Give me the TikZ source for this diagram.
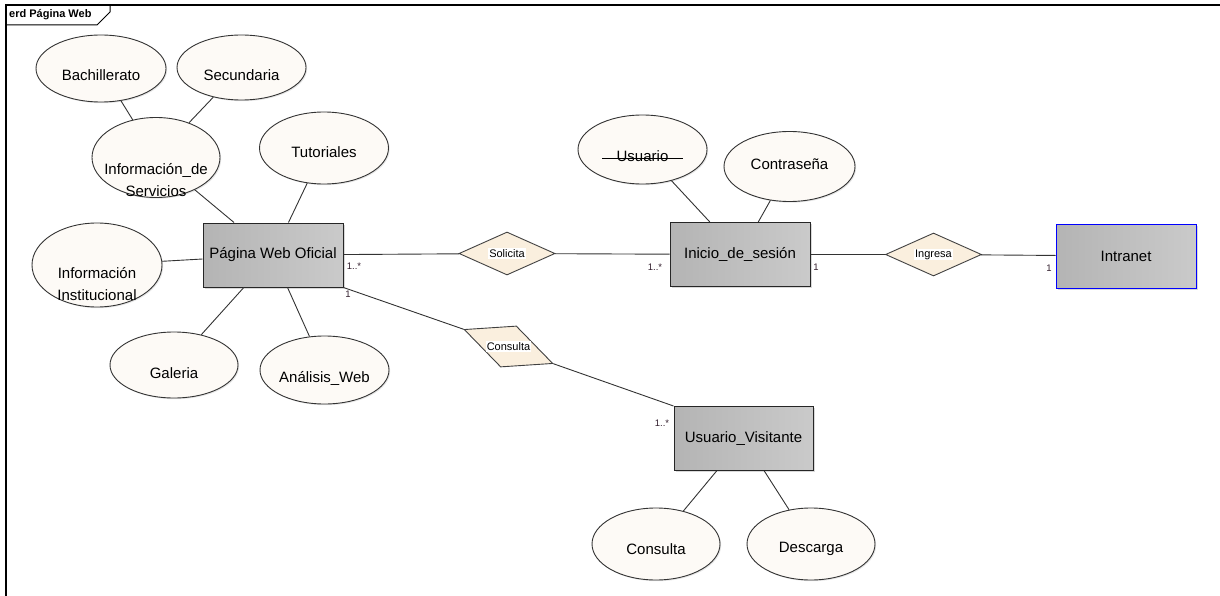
\documentclass[tikz,border=0pt]{standalone}
\usepackage{fontspec}
\setmainfont{Liberation Sans}
\usetikzlibrary{shapes.geometric}
\usetikzlibrary{shadows}

\definecolor{attrfill}{RGB}{253,250,246}
\definecolor{relfill}{RGB}{250,239,222}
\definecolor{entleft}{RGB}{180,180,180}
\definecolor{entright}{RGB}{202,202,202}
\definecolor{cardtext}{RGB}{50,30,45}

\begin{document}
\begin{tikzpicture}[x=1pt, y=-1pt]
                \tikzstyle{entity} = [rectangle, draw=black!85, line width=1pt, minimum width=140pt, minimum height=64pt, left color=entleft, right color=entright, font=\fontsize{15}{18}\selectfont, drop shadow={opacity=0.3, shadow xshift=1.5pt, shadow yshift=-1.5pt}]
                \tikzstyle{attr} = [ellipse, draw=black!80, line width=0.9pt, fill=attrfill, minimum width=129pt, minimum height=68pt, drop shadow={opacity=0.2, shadow xshift=1.2pt, shadow yshift=-1.2pt}]
                \tikzstyle{atxt} = [inner sep=0pt, yshift=-6.5pt, align=center, font=\fontsize{15}{22}\selectfont]
                \tikzstyle{relation} = [diamond, draw=black!75, line width=0.9pt, fill=relfill, aspect=2.2, minimum width=96pt, minimum height=43pt, inner sep=0pt]
                \tikzstyle{reltxt} = [fill=white, inner sep=1pt, font=\fontsize{11}{13}\selectfont]
                \tikzstyle{card} = [inner sep=0pt, text=cardtext, font=\fontsize{9.5}{10}\selectfont]
                \tikzstyle{link} = [line width=0.9pt, black!80]
                \useasboundingbox (0,0) rectangle (1220,596);
                \draw[line width=1.3pt] (6,596) -- (6,5) -- (1220,5);
                \draw[line width=1pt] (6,25) -- (97,25) -- (110,12) -- (110,5);
                \node[anchor=west, inner sep=0pt, font=\bfseries\fontsize{11}{13}\selectfont] (title) at (9,15) {erd Página Web};
                \node[entity] (pw) at (273,255) {Página Web Oficial};
                \node[entity] (ini) at (740,254.5) {Inicio\_de\_sesión};
                \node[entity, draw=blue, line width=0.8pt] (intra) at (1126,256) {Intranet};
                \node[entity, minimum width=139pt] (uv) at (743.5,438.5) {Usuario\_Visitante};
                \node[relation] (sol) at (507,253.5) {};
                \node[relation] (ing) at (933.5,254.5) {};
                \node[relation, minimum width=95pt, minimum height=44pt, rotate=-21] (con) at (508.5,346.5) {};
                \node[reltxt] (soltxt) at (sol) {Solicita};
                \node[reltxt] (ingtxt) at (ing) {Ingresa};
                \node[reltxt] (contxt) at (con) {Consulta};
                \node[attr, minimum width=130pt, minimum height=67pt, label={[atxt]center:Bachillerato}] (bach) at (101,68.5) {};
                \node[attr, minimum height=65pt, label={[atxt, yshift=-1pt]center:Secundaria}] (secu) at (241.5,67.5) {};
                \node[attr, minimum width=128pt, minimum height=80pt, label={[atxt, yshift=-16pt]center:{Información\_de\\Servicios}}] (infserv) at (156,157.5) {};
                \node[attr, minimum height=72pt, label={[atxt, yshift=2.5pt]center:Tutoriales}] (tuto) at (324,148) {};
                \node[attr, minimum width=130pt, minimum height=84pt, label={[atxt, yshift=-12.5pt]center:{Información\\Institucional}}] (infinst) at (97,265) {};
                \node[attr, minimum width=128pt, minimum height=66pt, label={[atxt, yshift=-1.5pt]center:Galeria}] (gal) at (174,365) {};
                \node[attr, label={[atxt, yshift=-1.5pt]center:Análisis\_Web}] (anal) at (324.5,370) {};
                \node[attr, minimum height=69pt, label={[atxt, yshift=-0.5pt, name=usrtxt]center:Usuario}] (usr) at (642.5,149.5) {};
                \node[attr, minimum width=131pt, minimum height=70pt, label={[atxt, yshift=9pt]center:Contraseña}] (pass) at (789.5,166.5) {};
                \node[attr, minimum width=128pt, minimum height=72pt, label={[atxt, yshift=1.5pt]center:Consulta}] (cons) at (656,544) {};
                \node[attr, minimum width=128pt, minimum height=72pt, label={[atxt, yshift=1.5pt]center:Descarga}] (desc) at (811,544) {};
                \draw[line width=0.8pt] ([xshift=-14pt, yshift=3pt]usrtxt.base west) -- ([xshift=14pt, yshift=3pt]usrtxt.base east);
                \draw[link] (bach) -- (infserv);
                \draw[link] (secu) -- (infserv);
                \draw[link] (infserv) -- (pw);
                \draw[link] (tuto) -- (pw);
                \draw[link] (infinst) -- (pw);
                \draw[link] (gal) -- (pw);
                \draw[link] (anal) -- (pw);
                \draw[link] (usr) -- (ini);
                \draw[link] (pass) -- (ini);
                \draw[link] (uv) -- (cons);
                \draw[link] (uv) -- (desc);
                \draw[link] (pw) -- (sol) -- (ini) -- (ing) -- (intra);
                \draw[link] (pw.south east) -- (con.west);
                \draw[link] (con.east) -- (uv.north west);
                \node[card] (c1) at (354,266) {1..*};
                \node[card] (c2) at (348,294) {1};
                \node[card] (c3) at (655,267) {1..*};
                \node[card] (c4) at (816,267) {1};
                \node[card] (c5) at (1049,268) {1};
                \node[card] (c6) at (662,423) {1..*};
            \end{tikzpicture}
\end{document}
